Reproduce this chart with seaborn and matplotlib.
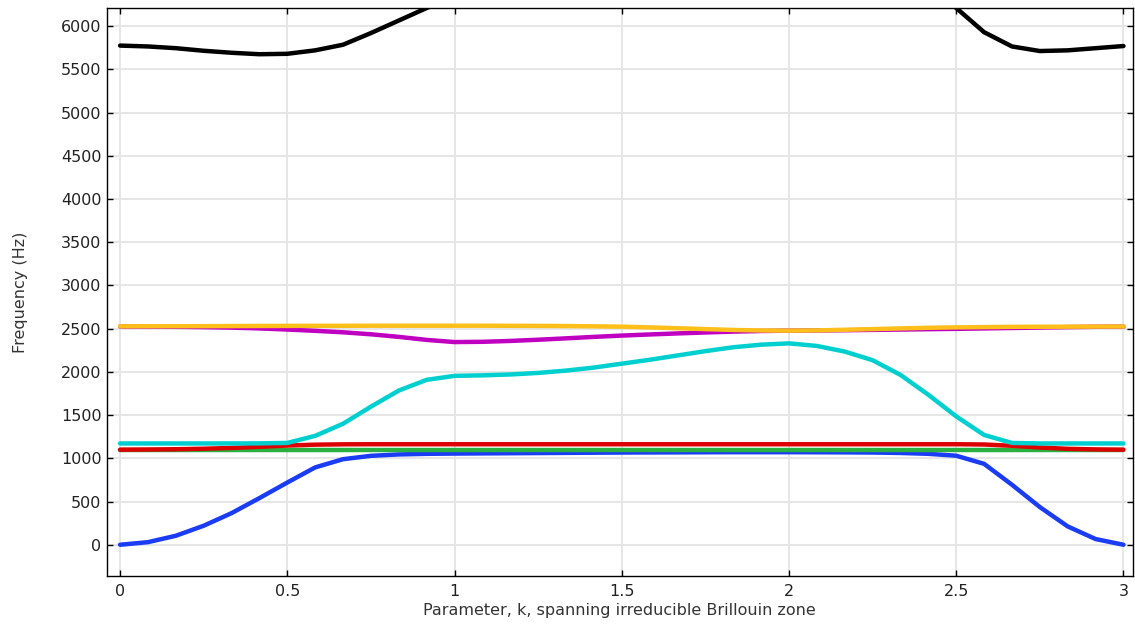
import numpy as np
import pandas as pd
import matplotlib
matplotlib.use("Agg")
import matplotlib.pyplot as plt
import seaborn as sns

# parametro k: 37 puntos de 0 a 3 (paso 1/12)
k_vals = np.linspace(0, 3, 37)

banda_1 = [0, 30, 104, 220, 366, 540, 720, 895, 990, 1029, 1045, 1052, 1055,
           1057, 1059, 1061, 1063, 1065, 1067, 1068, 1069, 1070, 1071, 1071,
           1071, 1070, 1069, 1067, 1062, 1052, 1030, 936, 694, 436, 212, 66, 0]
banda_2 = [1094, 1094, 1094, 1094, 1094, 1094, 1094, 1094, 1094, 1094, 1094,
           1094, 1094, 1094, 1094, 1094, 1094, 1094, 1094, 1094, 1094, 1094,
           1094, 1094, 1094, 1094, 1094, 1094, 1094, 1094, 1094, 1094, 1094,
           1094, 1094, 1094, 1094]
banda_3 = [1100, 1102, 1105, 1111, 1120, 1133, 1148, 1158, 1162, 1163, 1163,
           1163, 1163, 1163, 1163, 1163, 1163, 1163, 1163, 1163, 1163, 1163,
           1163, 1163, 1163, 1163, 1163, 1163, 1163, 1163, 1163, 1160, 1145,
           1125, 1110, 1103, 1100]
banda_4 = [1172, 1172, 1172, 1172, 1172, 1173, 1178, 1260, 1400, 1598, 1784,
           1908, 1954, 1960, 1970, 1988, 2015, 2050, 2095, 2140, 2190, 2240,
           2285, 2315, 2330, 2300, 2235, 2135, 1965, 1735, 1485, 1270, 1178,
           1172, 1172, 1172, 1172]
banda_5 = [2525, 2524, 2522, 2518, 2512, 2503, 2490, 2475, 2458, 2435, 2405,
           2370, 2345, 2348, 2358, 2372, 2388, 2405, 2420, 2433, 2445, 2456,
           2466, 2473, 2477, 2479, 2482, 2486, 2490, 2494, 2498, 2503, 2508,
           2513, 2518, 2522, 2524]
banda_6 = [2527, 2528, 2528, 2529, 2530, 2531, 2532, 2533, 2533, 2534, 2534,
           2534, 2534, 2534, 2533, 2532, 2530, 2527, 2523, 2515, 2505, 2495,
           2485, 2479, 2477, 2480, 2487, 2495, 2503, 2510, 2515, 2518, 2521,
           2522, 2523, 2524, 2525]
banda_7 = [5775, 5765, 5745, 5715, 5692, 5675, 5680, 5720, 5785, 5920, 6065,
           6210, 6340, 6460, 6560, 6640, 6700, 6740, 6760, 6770, 6770, 6760,
           6740, 6710, 6680, 6650, 6620, 6590, 6560, 6470, 6210, 5930, 5765,
           5712, 5720, 5745, 5770]

bandas = [banda_1, banda_2, banda_3, banda_4, banda_5, banda_6, banda_7]
colores = ['#1a3cf5', '#2ab040', '#dd0000', '#00cfd0', '#c000c0', '#ffbf1a', '#000000']

y_ticks = np.arange(0, 6001, 500)
x_ticks = [0, 0.5, 1, 1.5, 2, 2.5, 3]
x_labels = ['0', '0.5', '1', '1.5', '2', '2.5', '3']

filas = []
for i, b in enumerate(bandas):
    for kk, f in zip(k_vals, b):
        filas.append({'k': kk, 'freq': f, 'banda': f'b{i + 1}'})
df = pd.DataFrame(filas)

sns.set_theme(style='white')
plt.rcParams['font.family'] = ['DejaVu Sans']

fig = plt.figure(figsize=(11.35, 6.28), dpi=100)
ax = fig.add_axes([0.0943, 0.083, 0.9035, 0.904])

sns.lineplot(data=df, x='k', y='freq', hue='banda', palette=colores,
             sort=False, legend=False, linewidth=3.2, ax=ax, estimator=None)

ax.set_xlim(-0.039, 3.027)
ax.set_ylim(-360, 6208)
ax.set_xticks(x_ticks)
ax.set_xticklabels(x_labels)
ax.set_yticks(y_ticks)

ax.grid(True, color='#e6e6e6', linewidth=1.4)
ax.set_axisbelow(True)

for s in ax.spines.values():
    s.set_color('black')
    s.set_linewidth(1.0)
    s.set_visible(True)

ax.tick_params(direction='in', length=4, width=1, colors='black',
               labelsize=11.5, labelcolor='#222222',
               top=True, right=True, bottom=True, left=True)
ax.tick_params(axis='y', pad=4)
ax.tick_params(axis='x', pad=6)

ax.set_xlabel('Parameter, k, spanning irreducible Brillouin zone',
              fontsize=11.5, color='#333333', labelpad=3)
ax.set_ylabel('Frequency (Hz)', fontsize=11.5, color='#333333', labelpad=24)

fig.savefig('out.png', dpi=100)
